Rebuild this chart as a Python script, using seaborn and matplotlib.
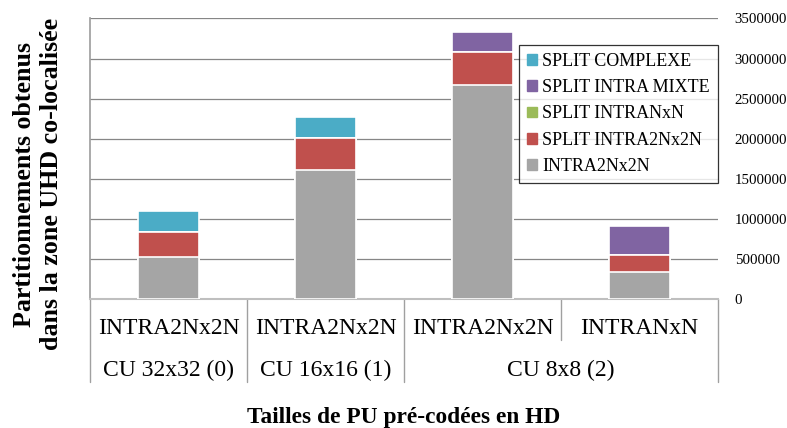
import pandas as pd
import matplotlib.pyplot as plt
import seaborn as sns

# ----------------------------------------------------
# Data
# ----------------------------------------------------
pu_labels = ['INTRA2Nx2N', 'INTRA2Nx2N', 'INTRA2Nx2N', 'INTRANxN']
cu_labels = ['CU 32x32 (0)', 'CU 16x16 (1)', 'CU 8x8 (2)']
cu_span = [1, 1, 2]  # number of PU bars under each CU group

intra2nx2n = [523000, 1607000, 2666000, 336000]
split_intra2nx2n = [315000, 406000, 411000, 212000]
split_intranxn = [0, 0, 0, 0]
split_intra_mixte = [0, 0, 253000, 369000]
split_complexe = [262000, 258000, 0, 0]

series_names = ['INTRA2Nx2N', 'SPLIT INTRA2Nx2N', 'SPLIT INTRANxN',
                'SPLIT INTRA MIXTE', 'SPLIT COMPLEXE']
series_values = [intra2nx2n, split_intra2nx2n, split_intranxn,
                 split_intra_mixte, split_complexe]
colors = ['#A5A5A5', '#C0504D', '#9BBB59', '#8064A2', '#4BACC6']

yticks = list(range(0, 3500001, 500000))

# stacked tops for each segment
keys = [f'bar{i}' for i in range(len(pu_labels))]
df = pd.DataFrame({'key': keys})
running = [0] * len(keys)
for name, vals in zip(series_names, series_values):
    running = [r + v for r, v in zip(running, vals)]
    df[name] = running

# ----------------------------------------------------
# Plot
# ----------------------------------------------------
sns.set_theme(style="white")
plt.rcParams['font.family'] = ['Liberation Serif', 'DejaVu Serif']
plt.rcParams['text.color'] = 'black'
plt.rcParams['ytick.color'] = 'black'

fig = plt.figure(figsize=(7.87, 4.28), dpi=100)
ax = fig.add_axes([0.1144, 0.3007, 0.7979, 0.6563])

# draw from the top of the stack downwards so lower segments overlay
for name, col in reversed(list(zip(series_names, colors))):
    sns.barplot(data=df, x='key', y=name, order=keys, color=col, width=0.39,
                edgecolor='white', linewidth=1.2, saturation=1, ax=ax, zorder=3)

ax.set_ylim(0, 3500000)
ax.set_xlim(-0.5, len(keys) - 0.5)
ax.set_yticks(yticks)
ax.set_yticklabels([str(t) for t in yticks], fontsize=10.7)
ax.yaxis.tick_right()
ax.tick_params(axis='y', length=0, pad=12)
ax.tick_params(axis='x', length=0, labelbottom=False)
ax.set_xlabel('')
ax.set_ylabel('')
ax.yaxis.grid(True, color='#868686', linewidth=0.9, zorder=0)
ax.set_axisbelow(True)
for s in ['top', 'right']:
    ax.spines[s].set_visible(False)
ax.spines['left'].set_color('#A0A0A0')
ax.spines['bottom'].set_color('#BFBFBF')
ax.spines['bottom'].set_linewidth(1.5)

# legend
handles = [plt.Rectangle((0, 0), 1, 1, color=c) for c in colors]
leg = ax.legend(handles[::-1], series_names[::-1], loc='upper left',
                bbox_to_anchor=(0.683, 0.907), frameon=True, fancybox=False,
                fontsize=13, handlelength=0.55, handleheight=0.55,
                handletextpad=0.3, labelspacing=0.52, borderpad=0.45,
                borderaxespad=0)
leg.get_frame().set_edgecolor('black')
leg.get_frame().set_linewidth(0.9)

# two-level category axis
trans = ax.get_xaxis_transform()
sep_col = '#A0A0A0'
for i, lab in enumerate(pu_labels):
    ax.text(i, -0.105, lab, transform=trans, ha='center', va='center',
            fontsize=17, clip_on=False)
start = 0
bounds = [-0.5]
for lab, n in zip(cu_labels, cu_span):
    ax.text(start + (n - 1) / 2, -0.254, lab, transform=trans, ha='center',
            va='center', fontsize=17, clip_on=False)
    start += n
    bounds.append(start - 0.5)
for b in bounds:
    ax.plot([b, b], [0, -0.295], transform=trans, color=sep_col,
            linewidth=1, clip_on=False)
for b in [i - 0.5 for i in range(1, len(keys))]:
    if b not in bounds:
        ax.plot([b, b], [0, -0.146], transform=trans, color=sep_col,
                linewidth=1, clip_on=False)

ax.text(0.5, -0.422, 'Tailles de PU pré-codées en HD', transform=ax.transAxes,
        ha='center', va='center', fontsize=16.8, fontweight='bold')
fig.text(0.048, 0.57, 'Partitionnements obtenus\ndans la zone UHD co-localisée',
         rotation=90, ha='center', va='center', multialignment='center',
         fontsize=18.7, fontweight='bold', linespacing=1.25)

fig.savefig('out.png', dpi=100)
plt.close(fig)
